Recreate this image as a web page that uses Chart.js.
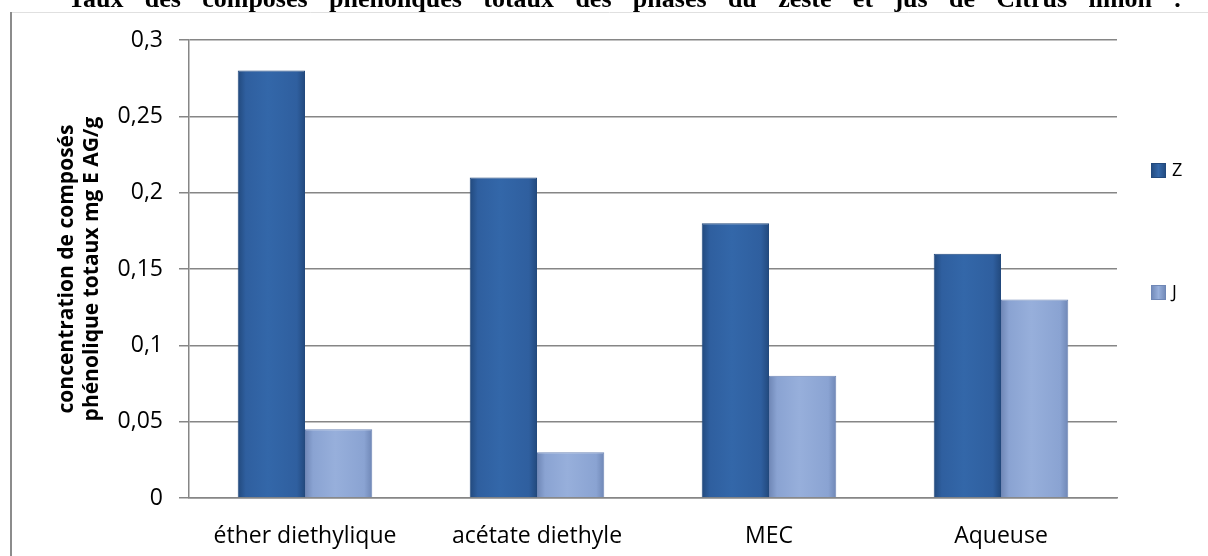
<!DOCTYPE html>
<html>
<head>
<meta charset="utf-8">
<script src="https://cdn.jsdelivr.net/npm/chart.js@4/dist/chart.umd.min.js"></script>
<style>
  html, body { margin: 0; padding: 0; background: #fff; }
  #wrap { width: 1208px; height: 556px; }
</style>
</head>
<body>
<div id="wrap"><canvas id="phenolChart" width="1208" height="556"></canvas></div>
<script>
// Composés phénoliques totaux (zeste / jus)
const solvants = ['éther diethylique', 'acétate diethyle', 'MEC', 'Aqueuse'];
const zeste = [0.28, 0.21, 0.18, 0.16];
const jus = [0.045, 0.03, 0.08, 0.13];
const yTicks = [0, 0.05, 0.1, 0.15, 0.2, 0.25, 0.3];
const titre = 'Taux des composés phénoliques totaux des phases du zeste et jus de Citrus limon :';

const couleurs = [
  { bord: '#22497d', milieu: '#3367a9', plein: '#2f5f9f' },
  { bord: '#6f87b6', milieu: '#97afdb', plein: '#8aa3d2' }
];
const catPct = 0.58;

// dégradé horizontal type "biseau" sur chaque barre
function degrade(ctx) {
  const chart = ctx.chart;
  const col = couleurs[ctx.datasetIndex];
  const xs = chart.scales && chart.scales.x;
  if (!xs || ctx.type !== 'data') return col.plein;
  const centre = xs.getPixelForValue(ctx.dataIndex);
  const demi = (xs.width / solvants.length) * catPct / 2;
  if (!isFinite(centre) || !isFinite(demi) || demi <= 0) return col.plein;
  const x0 = ctx.datasetIndex === 0 ? centre - demi : centre;
  const x1 = x0 + demi;
  const g = chart.ctx.createLinearGradient(x0, 0, x1, 0);
  g.addColorStop(0, col.bord);
  g.addColorStop(0.12, col.plein);
  g.addColorStop(0.45, col.milieu);
  g.addColorStop(0.88, col.plein);
  g.addColorStop(1, col.bord);
  return g;
}

// cadre + titre coupé en haut
const cadre = {
  id: 'cadre',
  beforeDraw(chart) {
    const c = chart.ctx;
    c.save();
    c.strokeStyle = '#e0e0e0';
    c.lineWidth = 1;
    c.beginPath();
    c.moveTo(11, 12.5);
    c.lineTo(1208, 12.5);
    c.stroke();
    c.strokeStyle = '#8c8c8c';
    c.lineWidth = 2;
    c.beginPath();
    c.moveTo(11, 556);
    c.lineTo(11, 12);
    c.stroke();
    // titre justifié
    c.fillStyle = '#000';
    c.font = 'bold 26px "Liberation Serif"';
    c.textBaseline = 'alphabetic';
    const mots = titre.split(' ');
    const x0 = 68, x1 = 1182;
    let total = 0;
    mots.forEach(m => total += c.measureText(m).width);
    const gap = (x1 - x0 - total) / (mots.length - 1);
    let x = x0;
    mots.forEach(m => {
      c.fillText(m, x, 7);
      x += c.measureText(m).width + gap;
    });
    c.restore();
  }
};

// légende à droite
const legendeDroite = {
  id: 'legendeDroite',
  afterDraw(chart) {
    const c = chart.ctx;
    const pos = [170, 292];
    c.save();
    chart.data.datasets.forEach((ds, i) => {
      const y = pos[i];
      const g = c.createLinearGradient(1151, 0, 1166, 0);
      g.addColorStop(0, couleurs[i].bord);
      g.addColorStop(0.5, couleurs[i].milieu);
      g.addColorStop(1, couleurs[i].bord);
      c.fillStyle = g;
      c.fillRect(1151, y - 7, 15, 15);
      c.strokeStyle = couleurs[i].bord;
      c.lineWidth = 1;
      c.strokeRect(1151.5, y - 6.5, 14, 14);
      c.fillStyle = '#000';
      c.font = '18px "Open Sans"';
      c.textBaseline = 'middle';
      c.fillText(ds.label, 1172, y + 1);
    });
    c.restore();
  }
};

const ctx = document.getElementById('phenolChart').getContext('2d');
const phenolChart = new Chart(ctx, {
  type: 'bar',
  data: {
    labels: solvants,
    datasets: [{
      label: 'Z',
      data: zeste,
      backgroundColor: degrade,
      borderColor: couleurs[0].bord,
      borderWidth: 1
    }, {
      label: 'J',
      data: jus,
      backgroundColor: degrade,
      borderColor: couleurs[1].bord,
      borderWidth: 1
    }]
  },
  options: {
    responsive: false,
    animation: false,
    layout: { padding: { top: 40, right: 91, left: 0, bottom: 0 } },
    categoryPercentage: catPct,
    barPercentage: 1,
    plugins: {
      legend: { display: false },
      tooltip: { enabled: false }
    },
    scales: {
      x: {
        grid: { display: false },
        border: { color: '#868686', width: 1.5 },
        ticks: { color: '#000', font: { family: 'Open Sans', size: 23 }, padding: 17 },
        afterFit(scale) { scale.height = 58; }
      },
      y: {
        min: 0,
        max: 0.3,
        afterBuildTicks(scale) { scale.ticks = yTicks.map(v => ({ value: v })); },
        grid: { color: '#868686', lineWidth: 1.5, tickLength: 10 },
        border: { color: '#868686', width: 1.5 },
        ticks: {
          color: '#000',
          padding: 16,
          font: { family: 'Open Sans', size: 23 },
          callback: function(value) { return String(value).replace('.', ','); }
        },
        title: {
          display: true,
          text: ['concentration de composés', 'phénolique totaux mg E AG/g'],
          color: '#000',
          font: { family: 'Open Sans', size: 21, weight: 'bold', lineHeight: 1.2 },
          padding: { top: 54, bottom: 0 }
        },
        afterFit(scale) { scale.width = 189; }
      }
    }
  },
  plugins: [cadre, legendeDroite]
});
</script>
</body>
</html>
